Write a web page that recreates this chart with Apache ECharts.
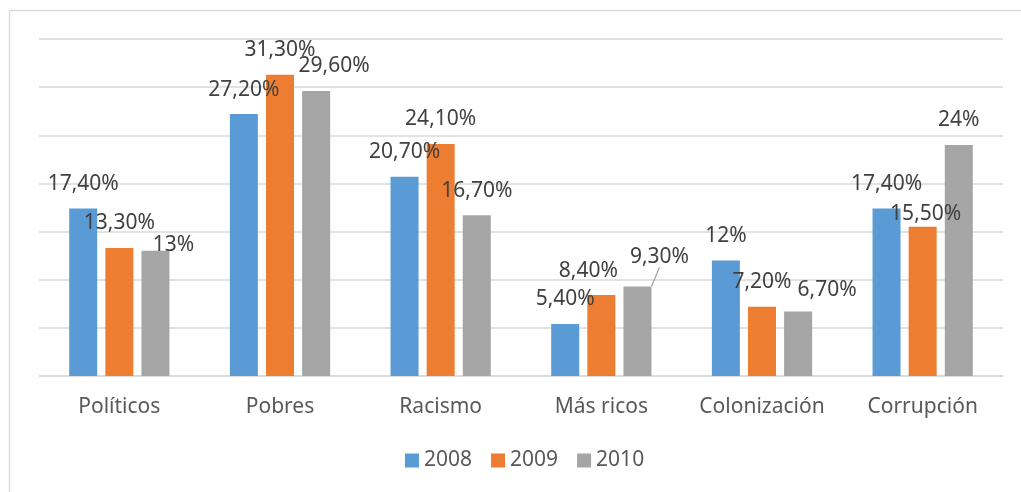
<!DOCTYPE html>
<html><head><meta charset="utf-8">
<script src="https://cdn.jsdelivr.net/npm/echarts@6/dist/echarts.min.js"></script>
<style>html,body{margin:0;padding:0;background:#fff}#c{width:1021px;height:492px}</style>
</head><body><div id="c"></div>
<script>
const categories = ['Políticos', 'Pobres', 'Racismo', 'Más ricos', 'Colonización', 'Corrupción'];
const seriesNames = ['2008', '2009', '2010'];
const values2008 = [17.4, 27.2, 20.7, 5.4, 12, 17.4];
const values2009 = [13.3, 31.3, 24.1, 8.4, 7.2, 15.5];
const values2010 = [13, 29.6, 16.7, 9.3, 6.7, 24];
const yTicks = [0, 5, 10, 15, 20, 25, 30, 35];

// label nudges (Excel-like manual placement), keyed "series-dataIndex"
const labelNudges = {'2-0': [18, 19], '2-1': [18, 0], '1-3': [-13, 0], '2-3': [22, -5], '2-4': [29, 3], '1-5': [3, 12]};
const guideLines = {'2-3': true};

const colors = ['#5B9BD5', '#ED7D31', '#A5A5A5'];
const FONT = 'Noto Sans';
const fmt = v => Number.isInteger(v) ? v + '%' : v.toFixed(2).replace('.', ',') + '%';

const allValues = [values2008, values2009, values2010];
const series = allValues.map((vals, si) => ({
  name: seriesNames[si],
  type: 'bar',
  barWidth: 28,
  barGap: '29%',
  itemStyle: {color: colors[si]},
  data: vals.map((v, di) => guideLines[si + '-' + di] ? {value: v, labelLine: {show: true}} : v),
  label: {
    show: true, position: 'top', distance: 14,
    color: '#404040', fontFamily: FONT, fontSize: 21,
    formatter: p => fmt(p.value)
  },
  labelLine: {show: false, lineStyle: {color: '#A6A6A6', width: 1.3}, length2: 0},
  labelLayout: p => {
    const n = labelNudges[p.seriesIndex + '-' + p.dataIndex];
    return n ? {dx: n[0], dy: n[1]} : {};
  }
}));

const chart = echarts.init(document.getElementById('c'));
chart.setOption({
  animation: false,
  textStyle: {fontFamily: FONT},
  graphic: [{type: 'rect', shape: {x: 9.5, y: 10.5, width: 1100, height: 600},
    style: {fill: 'none', stroke: '#D9D9D9', lineWidth: 1.3}, silent: true}],
  grid: {left: 39, right: 18, top: 39, bottom: 116},
  legend: {
    data: seriesNames, left: 400, top: 445, itemWidth: 14, itemHeight: 14, itemGap: 19,
    icon: 'rect', textStyle: {color: '#595959', fontSize: 21, fontFamily: FONT}
  },
  xAxis: {
    type: 'category', data: categories,
    axisLine: {lineStyle: {color: '#D9D9D9', width: 1.5}},
    axisTick: {show: false},
    axisLabel: {color: '#595959', fontSize: 21, fontFamily: FONT, margin: 21, interval: 0, hideOverlap: false}
  },
  yAxis: {
    type: 'value', min: yTicks[0], max: yTicks[yTicks.length - 1], interval: yTicks[1] - yTicks[0],
    axisLabel: {show: false}, axisLine: {show: false}, axisTick: {show: false},
    splitLine: {lineStyle: {color: '#D9D9D9', width: 1.5}}
  },
  series: series
});
</script></body></html>
